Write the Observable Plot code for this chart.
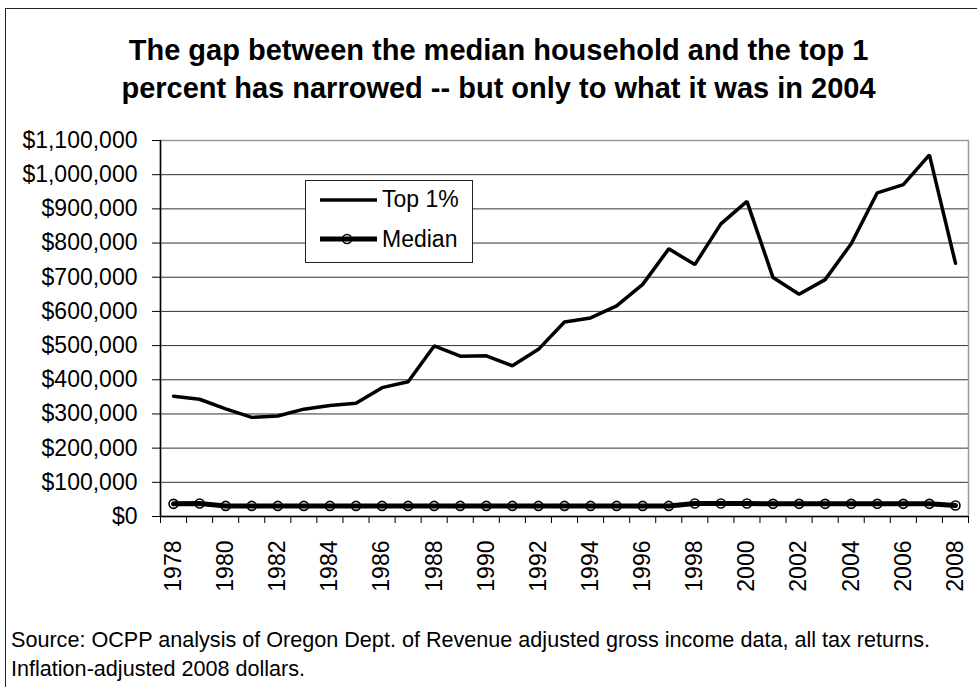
<!DOCTYPE html>
<html>
<head>
<meta charset="utf-8">
<script src="https://cdn.jsdelivr.net/npm/d3@7"></script>
<script src="https://cdn.jsdelivr.net/npm/@observablehq/plot@0.6"></script>
<style>
  html, body { margin: 0; padding: 0; background: #fff; }
  #wrap { position: relative; width: 977px; height: 687px; overflow: hidden; font-family: "Liberation Sans", Arial, sans-serif; color: #000; }
  #frame { position: absolute; left: 5px; top: 8px; width: 990px; height: 700px; border: 1px solid #222; box-sizing: border-box; }
  #chart { position: absolute; left: 0; top: 0; }
  #title { position: absolute; left: 20px; width: 957px; top: 31px; text-align: center; font-weight: bold; font-size: 29px; line-height: 38px; }
  #caption { position: absolute; left: 11px; top: 625px; font-size: 21.6px; line-height: 29px; white-space: nowrap; }
  #legend { position: absolute; left: 305px; top: 180px; }
</style>
</head>
<body>
<div id="wrap">
  <div id="frame"></div>
  <div id="chart"></div>
  <div id="title">The gap between the median household and the top 1<br>percent has narrowed -- but only to what it was in 2004</div>
  <div id="legend"></div>
  <div id="caption">Source: OCPP analysis of Oregon Dept. of Revenue adjusted gross income data, all tax returns.<br>Inflation-adjusted 2008 dollars.</div>
</div>
<script>
const years = [1978, 1979, 1980, 1981, 1982, 1983, 1984, 1985, 1986, 1987, 1988, 1989, 1990, 1991, 1992, 1993, 1994, 1995, 1996, 1997, 1998, 1999, 2000, 2001, 2002, 2003, 2004, 2005, 2006, 2007, 2008];
const top1 = [352000, 343000, 315000, 290000, 294000, 314000, 325000, 331000, 377000, 394000, 499000, 469000, 470000, 441000, 489000, 569000, 581000, 616000, 679000, 783000, 737000, 856000, 922000, 699000, 650000, 693000, 798000, 947000, 971000, 1058000, 741000];
const median = [37000, 38000, 31000, 31000, 31000, 31000, 31000, 31000, 31000, 31000, 31000, 31000, 31000, 31000, 31000, 31000, 31000, 31000, 31000, 31000, 38000, 38000, 38000, 37000, 37000, 37000, 37000, 37000, 37000, 37000, 32000];
const yTicks = [0, 100000, 200000, 300000, 400000, 500000, 600000, 700000, 800000, 900000, 1000000, 1100000];
const xLabelYears = [1978, 1980, 1982, 1984, 1986, 1988, 1990, 1992, 1994, 1996, 1998, 2000, 2002, 2004, 2006, 2008];
const seriesNames = ["Top 1%", "Median"];

const boundaries = years.map(y => y - 0.5).concat([years[years.length - 1] + 0.5]);
const xDomain = [boundaries[0], boundaries[boundaries.length - 1]];

const chart = Plot.plot({
  width: 977,
  height: 600,
  marginLeft: 160,
  marginRight: 9,
  marginTop: 140,
  marginBottom: 84,
  style: { fontFamily: "'Liberation Sans', Arial, sans-serif", fontSize: "23px", color: "#000", background: "transparent", overflow: "visible" },
  x: { domain: xDomain },
  y: { domain: [0, 1100000] },
  marks: [
    Plot.ruleY(yTicks, { stroke: "#333", strokeWidth: 1 }),
    Plot.frame({ stroke: "#999", strokeWidth: 1.5 }),
    Plot.axisY({ ticks: yTicks, tickFormat: d3.format("$,"), tickSize: 8, tickPadding: 15, label: null, fontSize: 23, stroke: "#000" }),
    Plot.axisX({ ticks: boundaries, tickSize: 7, tickFormat: () => "", label: null, stroke: "#000" }),
    Plot.axisX({ ticks: xLabelYears, tickSize: 0, tickRotate: -90, tickPadding: 24, tickFormat: d => String(d), label: null, fontSize: 23 }),
    Plot.ruleX([xDomain[0]], { stroke: "#000", strokeWidth: 1.5 }),
    Plot.ruleY([0], { stroke: "#000", strokeWidth: 1.5 }),
    Plot.line(years, { x: d => d, y: (d, i) => top1[i], stroke: "#000", strokeWidth: 3.5, strokeLinejoin: "miter" }),
    Plot.dot(years, { x: d => d, y: (d, i) => median[i], r: 4.5, fill: "#fff", stroke: "#000", strokeWidth: 1.6 }),
    Plot.line(years, { x: d => d, y: (d, i) => median[i], stroke: "#000", strokeWidth: 5 })
  ]
});
document.getElementById("chart").appendChild(chart);

// Legend
const lg = d3.select("#legend").append("svg").attr("width", 168).attr("height", 83)
  .style("font-family", "'Liberation Sans', Arial, sans-serif").style("font-size", "23px");
lg.append("rect").attr("x", 0.5).attr("y", 0.5).attr("width", 167).attr("height", 82).attr("fill", "#fff").attr("stroke", "#222");
lg.append("line").attr("x1", 15).attr("x2", 72).attr("y1", 20).attr("y2", 20).attr("stroke", "#000").attr("stroke-width", 3.5);
lg.append("text").attr("x", 77).attr("y", 27).text(seriesNames[0]);
lg.append("circle").attr("cx", 42).attr("cy", 59).attr("r", 4.5).attr("fill", "#fff").attr("stroke", "#000").attr("stroke-width", 1.6);
lg.append("line").attr("x1", 15).attr("x2", 72).attr("y1", 59).attr("y2", 59).attr("stroke", "#000").attr("stroke-width", 5);
lg.append("text").attr("x", 77).attr("y", 67).text(seriesNames[1]);
</script>
</body>
</html>
